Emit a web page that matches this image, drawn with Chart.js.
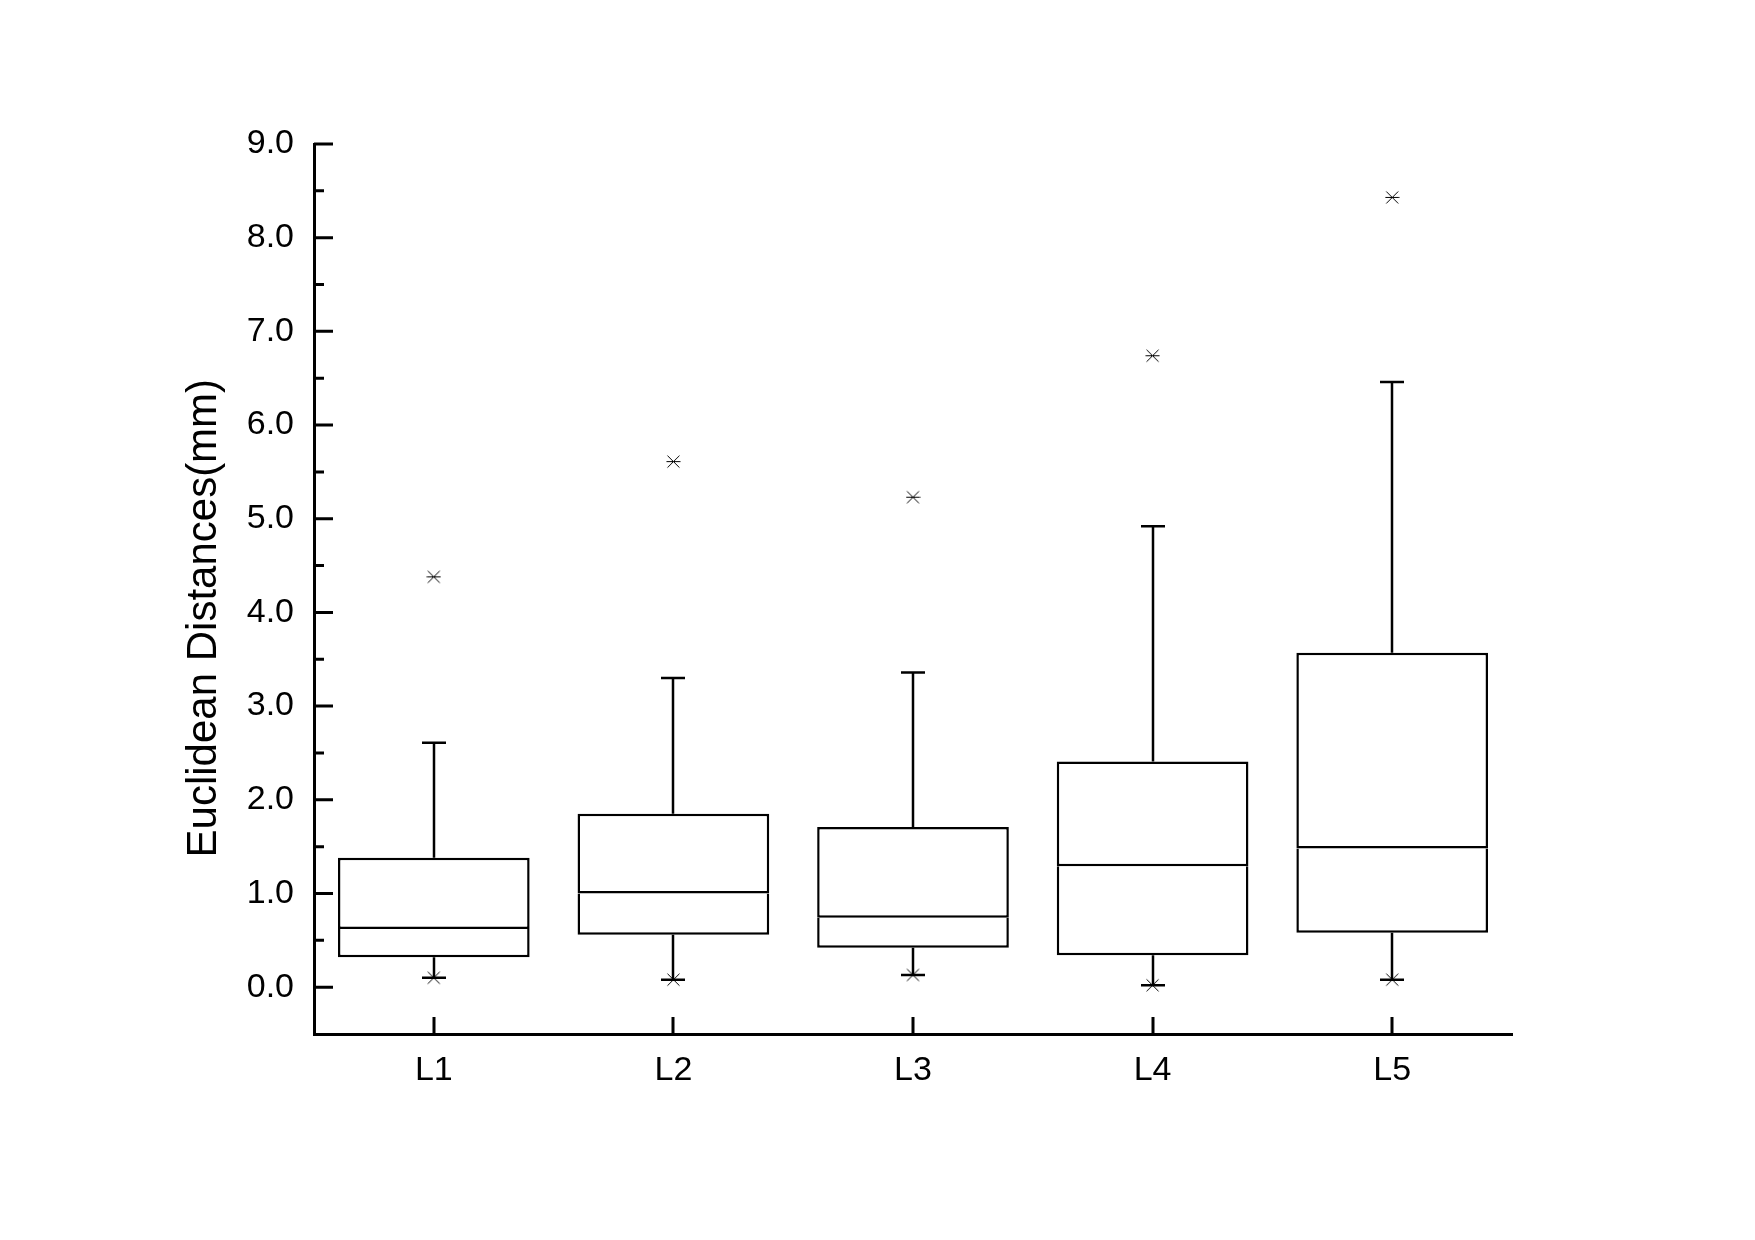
<!DOCTYPE html>
<html>
<head>
<meta charset="utf-8">
<script src="https://cdn.jsdelivr.net/npm/chart.js@4.4.0/dist/chart.umd.min.js"></script>
<style>
html, body { margin: 0; padding: 0; background: #fff; }
</style>
</head>
<body>
<canvas id="boxCanvas" width="1755" height="1240"></canvas>
<script>
// values (mm)
const categories = ['L1', 'L2', 'L3', 'L4', 'L5'];
const q1Values = [0.32, 0.56, 0.42, 0.34, 0.58];
const medianValues = [0.62, 1.00, 0.74, 1.29, 1.48];
const q3Values = [1.38, 1.85, 1.71, 2.41, 3.57];
const whiskerHigh = [2.61, 3.30, 3.36, 4.92, 6.46];
const whiskerLow = [0.10, 0.08, 0.13, 0.02, 0.08];
const markHigh = [4.38, 5.61, 5.23, 6.74, 8.43];
const markLow = [0.10, 0.08, 0.13, 0.02, 0.08];
const yMajorTicks = [0, 1, 2, 3, 4, 5, 6, 7, 8, 9];
const yMinorTicks = [0.5, 1.5, 2.5, 3.5, 4.5, 5.5, 6.5, 7.5, 8.5];

const FONT = 'Liberation Sans, Arial, sans-serif';

// x marker with a thin dash through it
function makeMarker() {
    const c = document.createElement('canvas');
    c.width = 15; c.height = 15;
    const g = c.getContext('2d');
    g.strokeStyle = '#000';
    g.lineWidth = 1;
    g.beginPath();
    g.moveTo(1.5, 1.5); g.lineTo(13.5, 13.5);
    g.moveTo(13.5, 1.5); g.lineTo(1.5, 13.5);
    g.moveTo(0.5, 7.5); g.lineTo(14.5, 7.5);
    g.stroke();
    return c;
}
const marker = makeMarker();

//whiskers and caps
const whiskers = {
    id: 'whiskers',
    beforeDatasetsDraw(chart) {
        const ctx = chart.ctx, x = chart.scales.x, y = chart.scales.y;
        ctx.save();
        ctx.strokeStyle = '#000';
        ctx.lineWidth = 2.5;
        ctx.beginPath();
        categories.forEach((c, i) => {
            const px = Math.round(x.getPixelForValue(i));
            const top = y.getPixelForValue(whiskerHigh[i]);
            const bot = y.getPixelForValue(whiskerLow[i]);
            ctx.moveTo(px, y.getPixelForValue(q3Values[i]));
            ctx.lineTo(px, top);
            ctx.moveTo(px - 12, top); ctx.lineTo(px + 12, top);
            ctx.moveTo(px, y.getPixelForValue(q1Values[i]));
            ctx.lineTo(px, bot);
            ctx.moveTo(px - 12, bot); ctx.lineTo(px + 12, bot);
        });
        ctx.stroke();
        ctx.restore();
    }
};

//ticks pointing into the plot
const innerTicks = {
    id: 'innerTicks',
    afterDatasetsDraw(chart) {
        const ctx = chart.ctx, x = chart.scales.x, y = chart.scales.y, area = chart.chartArea;
        ctx.save();
        ctx.strokeStyle = '#000';
        ctx.lineWidth = 3;
        ctx.beginPath();
        yMajorTicks.forEach(v => {
            const py = y.getPixelForValue(v);
            ctx.moveTo(area.left, py); ctx.lineTo(area.left + 19, py);
        });
        yMinorTicks.forEach(v => {
            const py = y.getPixelForValue(v);
            ctx.moveTo(area.left, py); ctx.lineTo(area.left + 10, py);
        });
        categories.forEach((c, i) => {
            const px = Math.round(x.getPixelForValue(i));
            ctx.moveTo(px, area.bottom); ctx.lineTo(px, area.bottom - 17);
        });
        ctx.stroke();
        ctx.restore();
    }
};

const ctx = document.getElementById('boxCanvas').getContext('2d');
const chart = new Chart(ctx, {
    type: 'bar',
    data: {
        labels: categories,
        datasets: [{
            label: 'upper box',
            data: categories.map((c, i) => [medianValues[i], q3Values[i]]),
            backgroundColor: '#fff',
            borderColor: '#000',
            borderWidth: 2.5,
            borderSkipped: false,
            grouped: false,
            categoryPercentage: 0.8,
            barPercentage: 1.0
        }, {
            label: 'lower box',
            data: categories.map((c, i) => [q1Values[i], medianValues[i]]),
            backgroundColor: '#fff',
            borderColor: '#000',
            borderWidth: 2.5,
            borderSkipped: 'top',
            grouped: false,
            categoryPercentage: 0.8,
            barPercentage: 1.0
        }, {
            type: 'line',
            label: 'high',
            data: markHigh,
            showLine: false,
            pointStyle: marker,
            pointRadius: 7
        }, {
            type: 'line',
            label: 'low',
            data: markLow,
            showLine: false,
            pointStyle: marker,
            pointRadius: 7
        }]
    },
    options: {
        responsive: false,
        animation: false,
        layout: { padding: { top: 144, right: 243, left: 0, bottom: 0 } },
        plugins: { legend: { display: false }, tooltip: { enabled: false } },
        scales: {
            x: {
                offset: true,
                afterFit: s => { s.height = 206; },
                grid: { display: false, drawTicks: false },
                border: { display: true, color: '#000', width: 3 },
                ticks: { color: '#000', padding: 16, font: { family: FONT, size: 34 } }
            },
            y: {
                min: -0.5,
                max: 9.0,
                afterBuildTicks: s => { s.ticks = yMajorTicks.map(v => ({ value: v })); },
                afterFit: s => { s.width = 314; },
                grid: { display: false, drawTicks: false },
                border: { display: true, color: '#000', width: 3 },
                ticks: {
                    color: '#000',
                    padding: 20,
                    font: { family: FONT, size: 34 },
                    callback: v => Number(v).toFixed(1)
                },
                title: {
                    display: true,
                    // trailing spaces nudge the centred title down like the original
                    text: 'Euclidean Distances(mm)     ',
                    color: '#000',
                    padding: { top: 183, bottom: 0 },
                    font: { family: FONT, size: 42, lineHeight: 1 }
                }
            }
        }
    },
    plugins: [whiskers, innerTicks]
});
</script>
</body>
</html>
